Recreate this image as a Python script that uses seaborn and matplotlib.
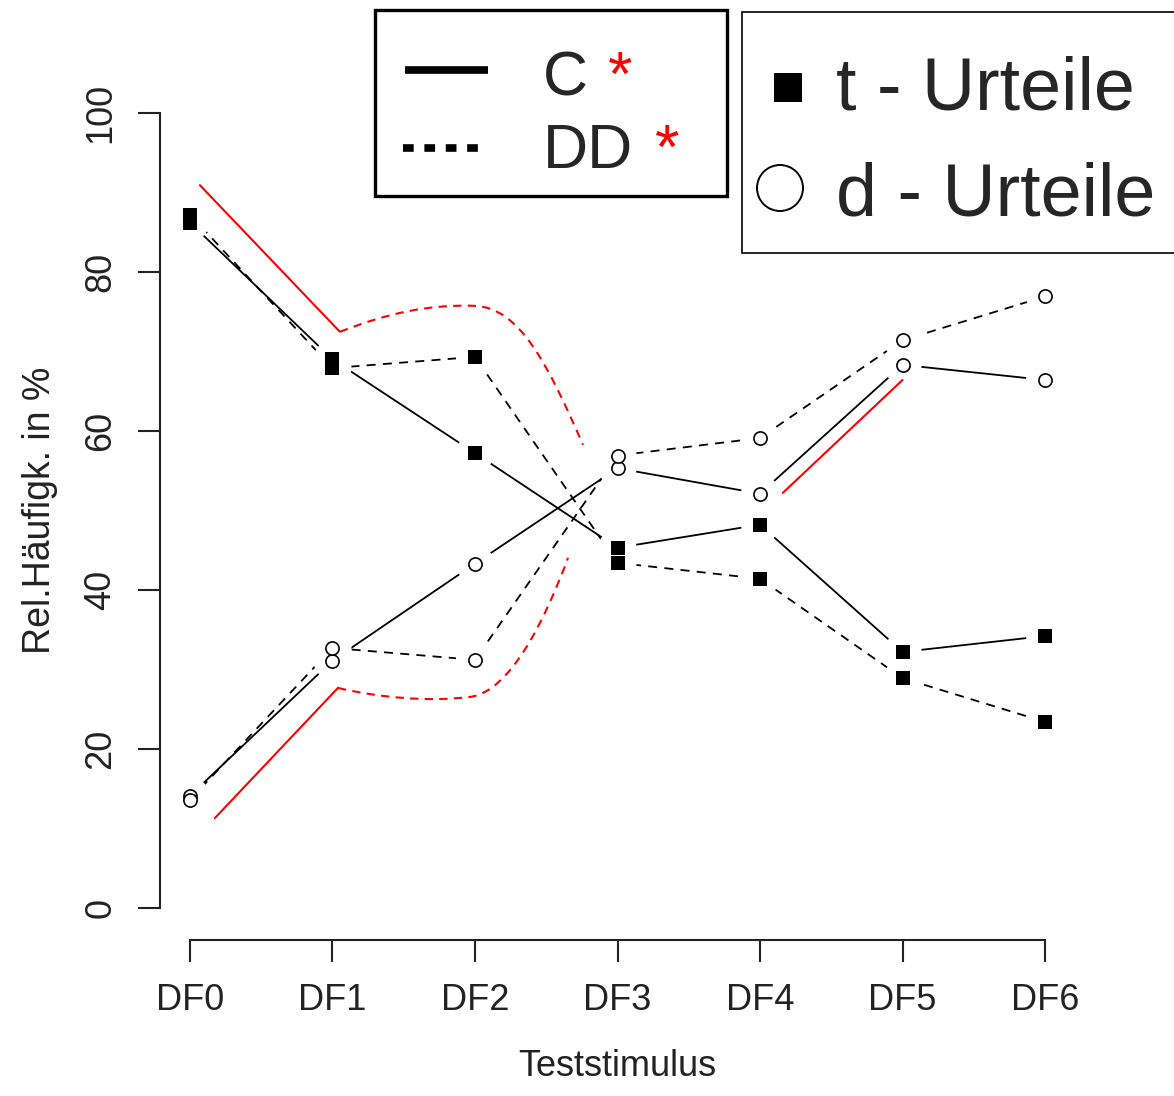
import matplotlib
matplotlib.use("Agg")
import matplotlib.pyplot as plt
from matplotlib.path import Path
from matplotlib.patches import PathPatch, Rectangle, Ellipse
from matplotlib.lines import Line2D
import pandas as pd
import seaborn as sns

# data
stimuli = ["DF0", "DF1", "DF2", "DF3", "DF4", "DF5", "DF6"]
c_t = [86.2, 69.0, 57.2, 45.3, 48.2, 32.2, 34.2]
c_d = [14.1, 31.1, 43.3, 55.3, 52.1, 68.3, 66.4]
dd_t = [87.2, 67.9, 69.3, 43.4, 41.4, 28.9, 23.4]
dd_d = [13.6, 32.7, 31.2, 56.9, 59.1, 71.4, 76.9]
y_ticks = [0, 20, 40, 60, 80, 100]

# red highlight marks (data coords)
red_lines = [
    [(0.07, 90.9), (1.05, 72.5)],
    [(0.175, 11.3), (1.04, 27.7)],
    [(4.16, 52.2), (5.0, 66.4)],
]
red_upper = [(1.053, 72.45), (1.368, 74.72), (1.684, 75.97), (2.0, 75.72),
             (2.316, 75.47), (2.512, 68.30), (2.758, 58.24)]
red_lower = [(1.039, 27.67), (1.333, 26.42), (1.684, 25.91), (1.965, 26.54),
             (2.246, 27.17), (2.491, 36.23), (2.653, 44.03)]


def build_frame():
    rows = []
    for group, urteil, vals in [("C", "t", c_t), ("C", "d", c_d),
                                ("DD", "t", dd_t), ("DD", "d", dd_d)]:
        for i, v in enumerate(vals):
            rows.append({"pos": i, "stim": stimuli[i], "value": v,
                         "group": group, "urteil": urteil,
                         "series": group + "_" + urteil})
    return pd.DataFrame(rows)


df = build_frame()

sns.set_style("ticks")
plt.rcParams["font.family"] = ["Liberation Sans", "DejaVu Sans"]

W, H = 1174, 1096
fig = plt.figure(figsize=(W / 100, H / 100), dpi=100)
ax = fig.add_axes([160 / W, 1 - 940 / H, (1075 - 160) / W, (940 - 81) / H])

# lines
sns.lineplot(data=df, x="pos", y="value", style="group", units="series",
             estimator=None, sort=False, color="black",
             dashes={"C": "", "DD": (5, 4)}, linewidth=1.3,
             legend=False, ax=ax)
for ln in ax.get_lines():
    ln.set_zorder(1)

# white halo -> gaps between lines and points, like R type="b"
ax.scatter(df["pos"], df["value"], s=750, marker="o",
           facecolors="white", edgecolors="none", zorder=2.5)

sns.scatterplot(data=df[df["urteil"] == "t"], x="pos", y="value",
                marker="s", color="black", s=95, linewidth=0,
                legend=False, ax=ax, zorder=3)
sns.scatterplot(data=df[df["urteil"] == "d"], x="pos", y="value",
                marker="o", color="white", edgecolor="black", s=90,
                linewidth=1.2, legend=False, ax=ax, zorder=3)

# red annotation
for seg in red_lines:
    xs, ys = zip(*seg)
    ax.plot(xs, ys, color="red", linewidth=1.5, zorder=5, clip_on=False)
codes = [Path.MOVETO] + [Path.CURVE4] * 6
for pts in [red_upper, red_lower]:
    patch = PathPatch(Path(pts, codes), facecolor="none", edgecolor="red",
                      linewidth=1.5, linestyle=(0, (4, 3)), zorder=5)
    ax.add_patch(patch)

ax.set_xlim(-0.21, 6.21)
ax.set_ylim(-4.03, 104)
ax.set_xticks(range(len(stimuli)))
ax.set_xticklabels(stimuli)
ax.set_yticks(y_ticks)
ax.set_yticklabels([str(v) for v in y_ticks], rotation=90, va="center")
for side in ["top", "right"]:
    ax.spines[side].set_visible(False)
ax.spines["left"].set_bounds(0, 100)
ax.spines["bottom"].set_bounds(0, 6)
for side in ["left", "bottom"]:
    ax.spines[side].set_linewidth(1.5)
    ax.spines[side].set_color("#222222")
ax.tick_params(axis="both", direction="out", length=16, width=1.5,
               color="#222222", labelsize=26, labelcolor="#222222",
               bottom=True, left=True)
ax.tick_params(axis="x", pad=15)
ax.tick_params(axis="y", pad=14)
ax.set_xlabel("Teststimulus", fontsize=26, color="#222222", labelpad=22)
ax.set_ylabel("Rel.Häufigk. in %", fontsize=27, color="#222222", labelpad=18)
ax.set_facecolor("white")

# legend boxes drawn in pixel coords on an overlay
ov = fig.add_axes([0, 0, 1, 1], facecolor="none")
ov.set_xlim(0, W)
ov.set_ylim(H, 0)
ov.axis("off")

ov.add_patch(Rectangle((375, 10), 352, 186, facecolor="white",
                       edgecolor="black", linewidth=2.4))
ov.add_line(Line2D([405, 488], [70, 70], color="black", linewidth=5.5,
                   solid_capstyle="butt"))
ov.add_line(Line2D([403, 488], [148, 148], color="black", linewidth=5.5,
                   linestyle=(0, (1.4, 1.4)), dash_capstyle="butt"))
ov.text(543, 95, "C", fontsize=45, va="baseline", ha="left")
ov.text(608, 95, "*", fontsize=45, va="baseline", ha="left", color="red")
ov.text(543, 168, "DD", fontsize=45, va="baseline", ha="left")
ov.text(655, 168, "*", fontsize=45, va="baseline", ha="left", color="red")

ov.add_patch(Rectangle((742, 12), 450, 241, facecolor="white",
                       edgecolor="black", linewidth=1.2, clip_on=False))
ov.add_patch(Rectangle((774, 73), 28, 29, facecolor="black", edgecolor="none"))
ov.add_patch(Ellipse((780, 188), 46, 46, facecolor="white",
                     edgecolor="black", linewidth=1.4))
ov.text(836, 110, "t - Urteile", fontsize=53, va="baseline", ha="left")
ov.text(836, 216, "d - Urteile", fontsize=53, va="baseline", ha="left")

fig.savefig("out.png", dpi=100, facecolor="white")
